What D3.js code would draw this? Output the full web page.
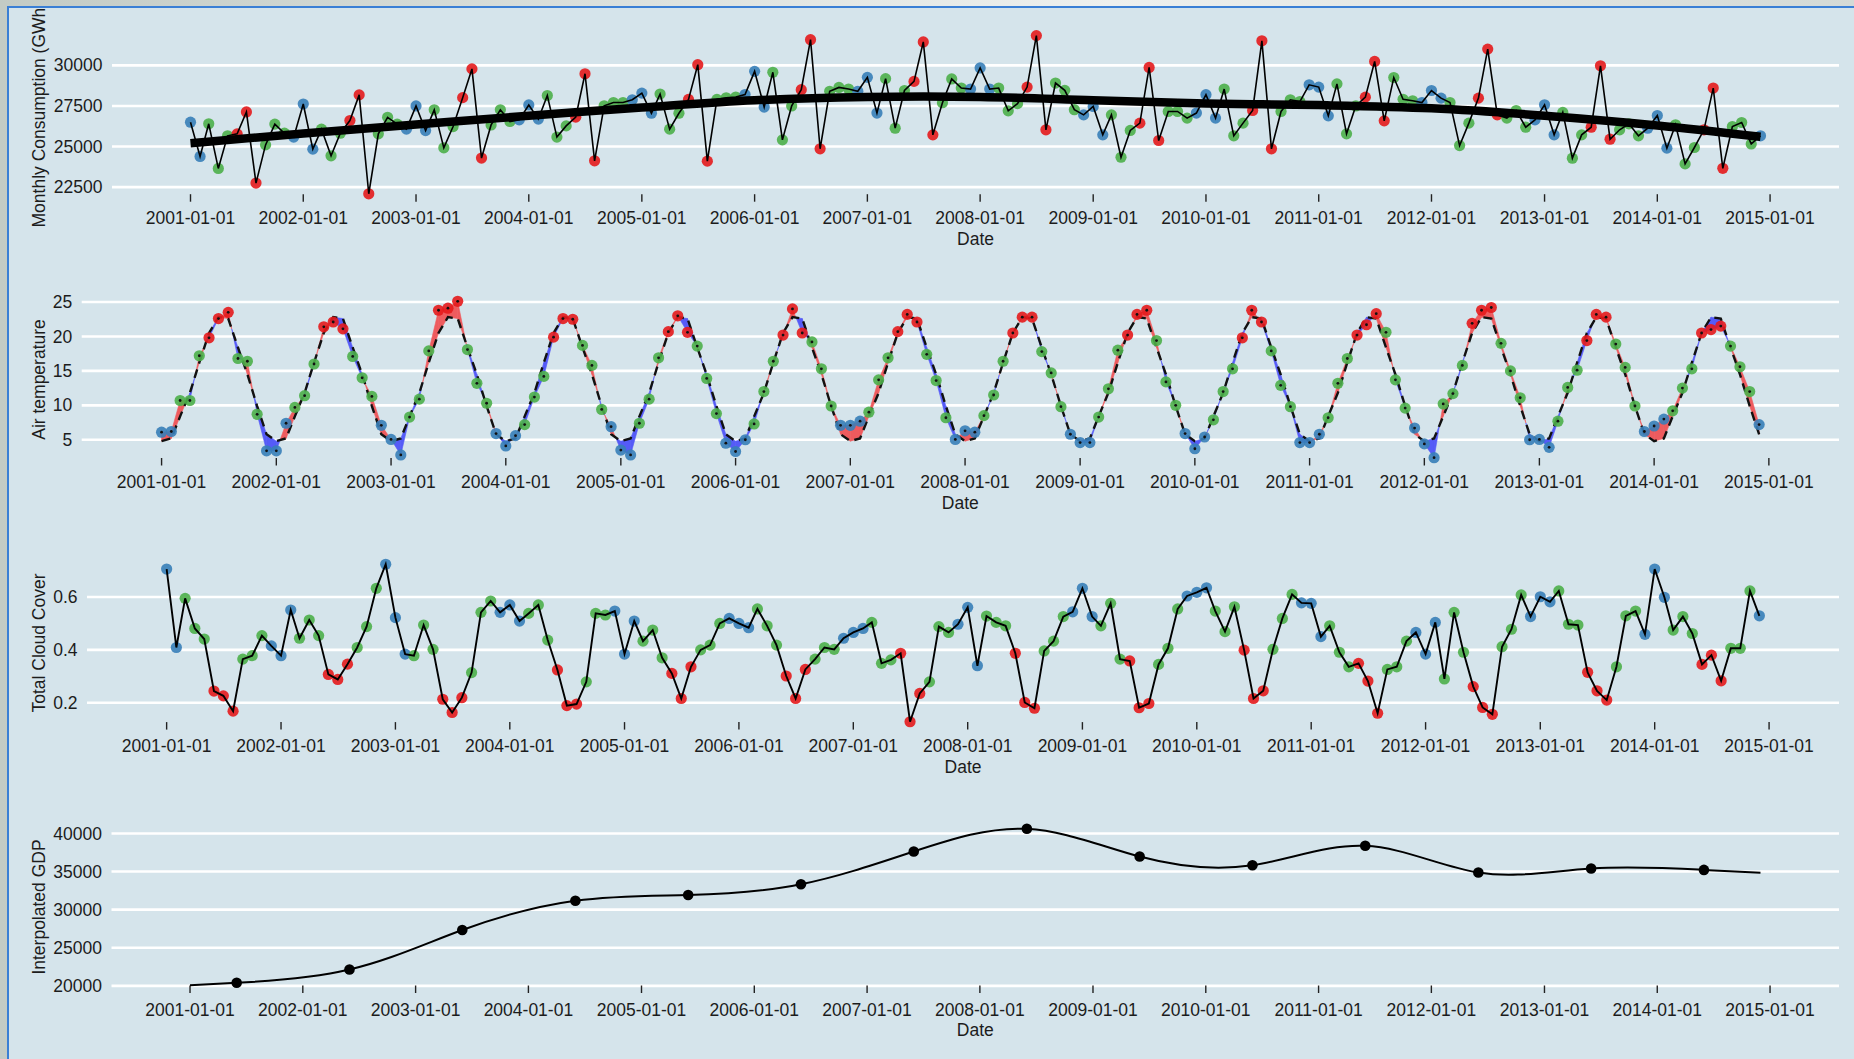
<!DOCTYPE html>
<html>
<head>
<meta charset="utf-8">
<script src="https://cdn.jsdelivr.net/npm/d3@7"></script>
<style>
  html, body { margin: 0; padding: 0; }
  body {
    width: 1854px; height: 1059px; overflow: hidden;
    background: linear-gradient(90deg, #c3cbc5 0%, #dde2de 35%, #eef0ee 60%, #d4dad6 100%);
  }
  svg { position: absolute; left: 0; top: 0; }
  text { font-family: "Liberation Sans", Arial, Helvetica, sans-serif; fill: #1c1c1c; }
</style>
</head>
<body>
<svg id="chart" width="1854" height="1059"></svg>
<script>
// ---------------------------------------------------------------------------
// Data: monthly series, January 2001 to December 2014
// ---------------------------------------------------------------------------
const startMonth = Date.UTC(2001, 0, 1);
const endMonth = Date.UTC(2014, 11, 1);

// Monthly electricity consumption (GWh)
const consumption = [
  26500, 24390, 26400, 23650, 25660, 25780, 27130, 22750, 25100, 26380, 25820, 25580,
  27620, 24840, 26070, 24430, 25820, 26600, 28180, 22090, 25780, 26800, 26380, 26070,
  27500, 25980, 27260, 24920, 26230, 28010, 29780, 24290, 26330, 27260, 26540, 26640,
  27560, 26690, 28140, 25580, 26270, 26810, 29480, 24120, 27510, 27710, 27710, 27880,
  28290, 27050, 28230, 26070, 27050, 27900, 30040, 24100, 27900, 28000, 28050, 28200,
  29630, 27430, 29570, 25410, 27500, 28500, 31580, 24860, 28400, 28640, 28540, 28400,
  29260, 27060, 29180, 26130, 28450, 29010, 31440, 25720, 27700, 29160, 28600, 28540,
  29840, 28540, 28600, 27200, 27640, 28660, 31830, 26030, 28910, 28460, 27270, 26950,
  27470, 25720, 26950, 24340, 25990, 26440, 29870, 25370, 27160, 27160, 26750, 27060,
  28190, 26750, 28540, 25660, 26440, 27220, 31510, 24860, 27160, 27880, 27770, 28800,
  28660, 26890, 28860, 25780, 27500, 28040, 30240, 26580, 29250, 27910, 27820, 27710,
  28450, 27980, 27710, 25060, 26440, 27980, 31000, 26950, 26750, 27220, 26190, 26640,
  27570, 25720, 27100, 24280, 25720, 26190, 29970, 25450, 26030, 26400, 25660, 26130,
  26910, 24900, 26340, 23930, 24940, 26030, 28600, 23660, 26230, 26480, 25160, 25660
];

// Smoothed consumption trend (January of each year, then December 2014)
const trendDates = ["2001-01-01", "2002-01-01", "2003-01-01", "2004-01-01", "2005-01-01",
  "2006-01-01", "2007-01-01", "2008-01-01", "2009-01-01", "2010-01-01", "2011-01-01",
  "2012-01-01", "2013-01-01", "2014-01-01", "2014-12-01"];
const trendValues = [25200, 25800, 26350, 26900, 27400, 27850, 28050, 28050, 27850,
  27650, 27550, 27350, 26900, 26300, 25600];

// Monthly mean air temperature
const airTemperature = [
  6.1, 6.2, 10.7, 10.7, 17.2, 19.8, 22.6, 23.5, 16.8, 16.4, 8.7, 3.4,
  3.4, 7.4, 9.7, 11.4, 16.0, 21.4, 22.1, 21.1, 17.1, 14.0, 11.3, 7.1,
  5.05, 2.8, 8.3, 10.9, 17.9, 23.8, 24.1, 25.1, 18.1, 13.2, 10.3, 5.9,
  4.1, 5.6, 7.2, 11.2, 14.2, 19.9, 22.6, 22.5, 18.7, 15.8, 9.4, 6.9,
  3.5, 2.8, 7.4, 10.9, 16.9, 20.7, 23.0, 20.6, 18.6, 13.9, 8.8, 4.5,
  3.3, 5.0, 7.3, 12.0, 16.4, 20.2, 24.0, 20.5, 19.2, 15.3, 9.9, 7.1,
  7.1, 7.7, 9.0, 13.7, 16.9, 20.7, 23.2, 22.1, 17.4, 13.6, 8.2, 5.05,
  6.3, 6.1, 8.5, 11.5, 16.4, 20.5, 22.8, 22.8, 17.8, 14.7, 9.8, 5.8,
  4.6, 4.6, 8.3, 12.4, 18.0, 20.2, 23.2, 23.8, 19.4, 13.4, 10.0, 5.9,
  3.7, 5.4, 7.9, 12.0, 15.3, 19.8, 23.8, 22.1, 17.9, 12.9, 9.8, 4.6,
  4.6, 5.8, 8.2, 13.2, 16.8, 20.2, 21.7, 23.3, 20.6, 13.7, 9.6, 6.7,
  4.4, 2.4, 10.2, 11.7, 15.8, 21.9, 23.8, 24.2, 19.0, 15.0, 11.1, 5.0,
  5.05, 3.9, 7.7, 12.6, 15.1, 19.4, 23.2, 22.8, 18.9, 15.5, 9.9, 6.2,
  7.0, 8.0, 9.2, 12.5, 15.3, 20.5, 21.0, 21.5, 18.6, 15.6, 12.0, 7.2
];

// Long-term normal temperature for each calendar month (Jan..Dec)
const temperatureNormal = [4.8, 5.2, 8.4, 11.8, 16.2, 20.5, 22.8, 22.6, 18.4, 14.5, 9.9, 5.8];

// Monthly total cloud cover (fraction)
const cloudCover = [
  0.706, 0.409, 0.595, 0.481, 0.441, 0.244, 0.226, 0.168, 0.365, 0.378, 0.454, 0.415,
  0.378, 0.551, 0.444, 0.513, 0.454, 0.307, 0.288, 0.346, 0.409, 0.488, 0.633, 0.724,
  0.522, 0.384, 0.378, 0.494, 0.402, 0.213, 0.163, 0.219, 0.314, 0.542, 0.585, 0.542,
  0.570, 0.509, 0.538, 0.570, 0.437, 0.324, 0.189, 0.195, 0.279, 0.538, 0.532, 0.547,
  0.384, 0.509, 0.433, 0.475, 0.370, 0.311, 0.216, 0.336, 0.400, 0.418, 0.500, 0.519,
  0.500, 0.484, 0.555, 0.491, 0.418, 0.301, 0.216, 0.326, 0.365, 0.409, 0.402, 0.444,
  0.466, 0.481, 0.504, 0.349, 0.362, 0.387, 0.128, 0.235, 0.279, 0.488, 0.466, 0.497,
  0.561, 0.340, 0.528, 0.504, 0.491, 0.387, 0.201, 0.179, 0.396, 0.433, 0.526, 0.544,
  0.633, 0.526, 0.491, 0.576, 0.365, 0.358, 0.181, 0.197, 0.345, 0.406, 0.555, 0.604,
  0.618, 0.635, 0.547, 0.469, 0.563, 0.399, 0.216, 0.245, 0.402, 0.519, 0.610, 0.578,
  0.576, 0.450, 0.491, 0.391, 0.336, 0.349, 0.282, 0.160, 0.326, 0.336, 0.433, 0.466,
  0.384, 0.504, 0.290, 0.542, 0.391, 0.261, 0.182, 0.156, 0.412, 0.478, 0.608, 0.526,
  0.601, 0.582, 0.623, 0.497, 0.494, 0.315, 0.245, 0.210, 0.336, 0.529, 0.547, 0.459,
  0.706, 0.599, 0.475, 0.526, 0.462, 0.345, 0.380, 0.283, 0.406, 0.406, 0.623, 0.529
];

// Annual GDP (observed at mid-year) and the ends of the interpolated curve
const gdpDates = ["2001-06-01", "2002-06-01", "2003-06-01", "2004-06-01", "2005-06-01",
  "2006-06-01", "2007-06-01", "2008-06-01", "2009-06-01", "2010-06-01", "2011-06-01",
  "2012-06-01", "2013-06-01", "2014-06-01"];
const gdpValues = [20400, 22150, 27330, 31180, 31930, 33330, 37630, 40610, 36970,
  35830, 38380, 34870, 35400, 35220];
const gdpCurveStart = { date: "2001-01-01", value: 20090 };
const gdpCurveEnd = { date: "2014-12-01", value: 34830 };

// Season of each calendar month and its colour
const seasonByMonth = ["Winter", "Winter", "Spring", "Spring", "Spring", "Summer",
  "Summer", "Summer", "Autumn", "Autumn", "Autumn", "Winter"];
const seasonColor = { Winter: "#377eb8", Spring: "#4daf4a", Summer: "#e41a1c", Autumn: "#4daf4a" };

// Axis ticks
const yearTicks = d3.range(2001, 2016).map(y => new Date(Date.UTC(y, 0, 1)));
const consumptionTicks = [22500, 25000, 27500, 30000];
const temperatureTicks = [5, 10, 15, 20, 25];
const cloudTicks = [0.2, 0.4, 0.6];
const gdpTicks = [20000, 25000, 30000, 35000, 40000];

// ---------------------------------------------------------------------------
// Layout
// ---------------------------------------------------------------------------
const W = 1854, H = 1059;
const frameX = 8, frameY = 7;
const panelRight = 1839;
const fontSize = 17.5;
const pointR = 5.6;
const parse = d3.utcParse("%Y-%m-%d");
const fmtDate = d3.utcFormat("%Y-%m-%d");

const months = d3.utcMonth.range(new Date(startMonth), d3.utcMonth.offset(new Date(endMonth), 1));

const svg = d3.select("#chart");
svg.append("defs").append("clipPath").attr("id", "frameClip")
  .append("rect").attr("x", frameX).attr("y", frameY)
  .attr("width", W - frameX).attr("height", H - frameY);

const root = svg.append("g").attr("clip-path", "url(#frameClip)");
root.append("rect").attr("x", frameX).attr("y", frameY)
  .attr("width", W - frameX).attr("height", H - frameY).attr("fill", "#d5e4eb");

// Blue frame edges
svg.append("line").attr("x1", frameX).attr("y1", frameY - 1).attr("x2", frameX).attr("y2", H)
  .attr("stroke", "#3a7fd5").attr("stroke-width", 2);
svg.append("line").attr("x1", frameX).attr("y1", frameY).attr("x2", W).attr("y2", frameY)
  .attr("stroke", "#3a7fd5").attr("stroke-width", 2);

// Builds one panel: background grid, x ticks, labels; returns its scales
function makePanel(opt) {
  const g = root.append("g");
  const L = opt.left, R = panelRight;
  const pad = (R - L) * 0.05 / 1.1;
  const x = d3.scaleUtc().domain([new Date(startMonth), new Date(endMonth)]).range([L + pad, R - pad]);
  const [lo, hi] = opt.extent;
  const span = hi - lo;
  const y = d3.scaleLinear().domain([lo - span * 0.05, hi + span * 0.05]).range([opt.bottom, opt.top]);

  // horizontal white grid lines
  g.selectAll(".grid").data(opt.yTicks).join("line")
    .attr("x1", L).attr("x2", R)
    .attr("y1", d => y(d)).attr("y2", d => y(d))
    .attr("stroke", "#ffffff").attr("stroke-width", 2.6);

  // y tick labels
  g.selectAll(".ylab").data(opt.yTicks).join("text")
    .attr("x", L - 9.5).attr("y", d => y(d)).attr("dy", "0.35em")
    .attr("text-anchor", "end").attr("font-size", fontSize)
    .text(opt.yFormat);

  // x ticks (drawn upward from the panel bottom) and labels
  g.selectAll(".xtick").data(yearTicks).join("line")
    .attr("x1", d => x(d)).attr("x2", d => x(d))
    .attr("y1", opt.bottom - 7.5).attr("y2", opt.bottom)
    .attr("stroke", "#222").attr("stroke-width", 1.4);
  g.selectAll(".xlab").data(yearTicks).join("text")
    .attr("x", d => x(d)).attr("y", opt.bottom + 16.5).attr("dy", "0.35em")
    .attr("text-anchor", "middle").attr("font-size", fontSize)
    .text(d => fmtDate(d));

  // axis titles
  g.append("text").attr("x", (L + R) / 2).attr("y", opt.bottom + 37).attr("dy", "0.35em")
    .attr("text-anchor", "middle").attr("font-size", fontSize).text("Date");
  g.append("text")
    .attr("transform", `translate(39,${(opt.top + opt.bottom) / 2}) rotate(-90)`)
    .attr("dy", "0.35em").attr("text-anchor", "middle").attr("font-size", fontSize)
    .text(opt.yTitle);

  return { g, x, y };
}

const colorOf = i => seasonColor[seasonByMonth[months[i].getUTCMonth()]];

// ---------------------------------------------------------------------------
// Panel 1: monthly consumption with trend
// ---------------------------------------------------------------------------
{
  const p = makePanel({
    left: 112, top: 27.7, bottom: 201.7,
    extent: d3.extent(consumption),
    yTicks: consumptionTicks, yFormat: d => d3.format("d")(d),
    yTitle: "Monthly Consumption (GWh)"
  });
  p.g.selectAll(".pt").data(consumption).join("circle")
    .attr("cx", (d, i) => p.x(months[i])).attr("cy", d => p.y(d)).attr("r", pointR)
    .attr("fill", (d, i) => colorOf(i)).attr("fill-opacity", 0.9);
  p.g.append("path").datum(consumption)
    .attr("d", d3.line().x((d, i) => p.x(months[i])).y(d => p.y(d)))
    .attr("fill", "none").attr("stroke", "#000").attr("stroke-width", 1.6);
  const trend = trendDates.map((d, i) => ({ date: parse(d), value: trendValues[i] }));
  p.g.append("path").datum(trend)
    .attr("d", d3.line().curve(d3.curveCatmullRom).x(d => p.x(d.date)).y(d => p.y(d.value)))
    .attr("fill", "none").attr("stroke", "#000").attr("stroke-width", 8.5)
    .attr("stroke-linecap", "butt");
}

// ---------------------------------------------------------------------------
// Panel 2: air temperature against the monthly normal
// ---------------------------------------------------------------------------
{
  const normal = months.map(m => temperatureNormal[m.getUTCMonth()]);
  const p = makePanel({
    left: 81.7, top: 293.5, bottom: 465.5,
    extent: d3.extent(airTemperature.concat(normal)),
    yTicks: temperatureTicks, yFormat: d => d3.format("d")(d),
    yTitle: "Air temperature"
  });

  // anomaly ribbon, split where observed crosses the normal
  const warm = "#ee5b5e", cold = "#555bf7";
  const polys = [];
  for (let i = 0; i < months.length - 1; i++) {
    const x0 = p.x(months[i]), x1 = p.x(months[i + 1]);
    const o0 = airTemperature[i], o1 = airTemperature[i + 1];
    const n0 = normal[i], n1 = normal[i + 1];
    const a = o0 - n0, b = o1 - n1;
    if (a * b >= 0) {
      polys.push({ pts: [[x0, p.y(o0)], [x1, p.y(o1)], [x1, p.y(n1)], [x0, p.y(n0)]], pos: (a + b) >= 0 });
    } else {
      const t = a / (a - b);
      const xc = x0 + t * (x1 - x0), yc = p.y(o0 + t * (o1 - o0));
      polys.push({ pts: [[x0, p.y(o0)], [xc, yc], [x0, p.y(n0)]], pos: a > 0 });
      polys.push({ pts: [[xc, yc], [x1, p.y(o1)], [x1, p.y(n1)]], pos: b > 0 });
    }
  }
  p.g.selectAll(".rib").data(polys).join("polygon")
    .attr("points", d => d.pts.map(q => q.join(",")).join(" "))
    .attr("fill", d => d.pos ? warm : cold)
    .attr("stroke", d => d.pos ? warm : cold).attr("stroke-width", 0.6);

  p.g.append("path").datum(normal)
    .attr("d", d3.line().x((d, i) => p.x(months[i])).y(d => p.y(d)))
    .attr("fill", "none").attr("stroke", "#111").attr("stroke-width", 2.4)
    .attr("stroke-dasharray", "9,6");

  p.g.selectAll(".pt").data(airTemperature).join("circle")
    .attr("cx", (d, i) => p.x(months[i])).attr("cy", d => p.y(d)).attr("r", pointR)
    .attr("fill", (d, i) => colorOf(i)).attr("fill-opacity", 0.9);
  p.g.selectAll(".dot").data(airTemperature).join("circle")
    .attr("cx", (d, i) => p.x(months[i])).attr("cy", d => p.y(d)).attr("r", 1.4)
    .attr("fill", "#111");
}

// ---------------------------------------------------------------------------
// Panel 3: total cloud cover
// ---------------------------------------------------------------------------
{
  const p = makePanel({
    left: 87, top: 556.4, bottom: 729.6,
    extent: d3.extent(cloudCover),
    yTicks: cloudTicks, yFormat: d => d3.format(".1f")(d),
    yTitle: "Total Cloud Cover"
  });
  p.g.selectAll(".pt").data(cloudCover).join("circle")
    .attr("cx", (d, i) => p.x(months[i])).attr("cy", d => p.y(d)).attr("r", pointR)
    .attr("fill", (d, i) => colorOf(i)).attr("fill-opacity", 0.9);
  p.g.append("path").datum(cloudCover)
    .attr("d", d3.line().x((d, i) => p.x(months[i])).y(d => p.y(d)))
    .attr("fill", "none").attr("stroke", "#000").attr("stroke-width", 1.9);
}

// ---------------------------------------------------------------------------
// Panel 4: interpolated GDP
// ---------------------------------------------------------------------------
{
  const pts = gdpDates.map((d, i) => ({ date: parse(d), value: gdpValues[i] }));
  const curvePts = [{ date: parse(gdpCurveStart.date), value: gdpCurveStart.value }]
    .concat(pts, [{ date: parse(gdpCurveEnd.date), value: gdpCurveEnd.value }]);
  const p = makePanel({
    left: 111.5, top: 821, bottom: 993,
    extent: d3.extent(curvePts, d => d.value),
    yTicks: gdpTicks, yFormat: d => d3.format("d")(d),
    yTitle: "Interpolated GDP"
  });
  p.g.append("path").datum(curvePts)
    .attr("d", d3.line().curve(d3.curveNatural).x(d => p.x(d.date)).y(d => p.y(d.value)))
    .attr("fill", "none").attr("stroke", "#000").attr("stroke-width", 2);
  p.g.selectAll(".pt").data(pts).join("circle")
    .attr("cx", d => p.x(d.date)).attr("cy", d => p.y(d.value)).attr("r", 5.3)
    .attr("fill", "#000");
}
</script>
</body>
</html>
